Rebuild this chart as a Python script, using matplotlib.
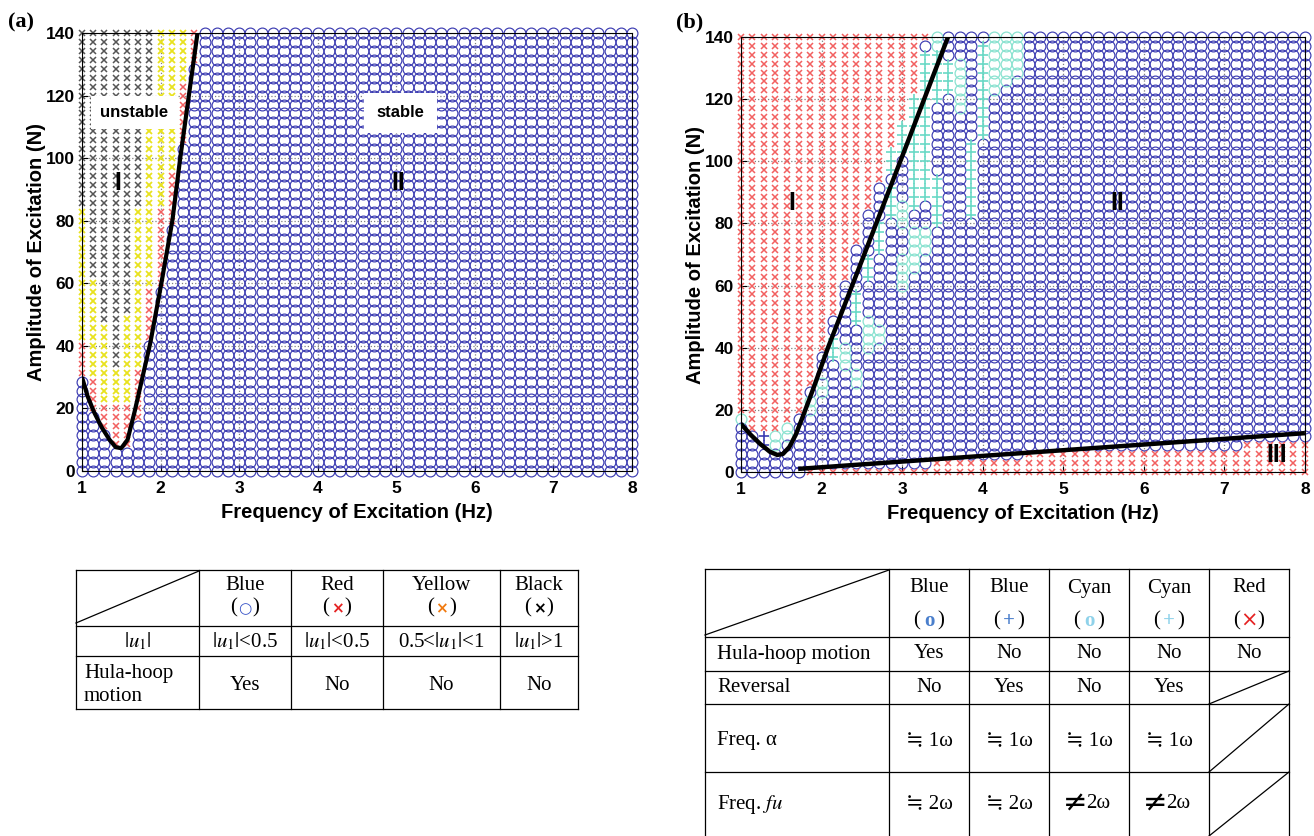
import numpy as np
import matplotlib.pyplot as plt

plt.rcParams['mathtext.fontset'] = 'stix'

# excitation grid used in both maps (50 x 50 runs)
freq = np.linspace(1, 8, 50)
amp = np.linspace(0, 140, 50)

# (a) per-column limits for the first columns (x = 1, 1.14, ...); above yellow_top -> black
a_blue_top = [30, 18, 12, 6, 8, 16, 40, 58, 78, 104, 130]
a_red_top = [40, 30, 20, 20, 20, 34, 58, 84, 96, 124, 140]
a_yellow_top = [84, 60, 46, 34, 50, 84, 118, 140, 140, 140, 140]

curve_a_x = [1.00, 1.07, 1.15, 1.25, 1.35, 1.43, 1.50, 1.58, 1.67, 1.77, 1.87, 2.01, 2.15, 2.25, 2.36, 2.47]
curve_a_y = [30, 24, 19, 14, 10, 7.6, 7.3, 10, 19, 30, 41, 60, 80, 100, 120, 140]

# (b) region I: red from this amplitude upward, per column
b_red_from = [18, 14, 12, 12, 16, 20, 26, 40, 50, 62, 72, 84, 92, 104, 112, 122, 138]
# region III: red up to b3_top from frequency b3_from
b3_from = [1.8, 3.4, 4.5, 6.3, 7.2]
b3_top = [1, 4, 6, 7, 9]
# scattered cyan / blue-plus points (column index, amp low, amp high, kind)
patch_col = [0, 2, 3, 4, 4, 6, 7, 8, 9, 10, 10, 11, 11, 12, 12, 13, 13, 14, 14, 14,
             15, 15, 16, 16, 17, 17, 17, 18, 19, 20, 21, 22, 23, 24]
patch_lo = [16, 10, 8, 12, 104, 20, 26, 38, 34, 28, 50, 40, 62, 44, 72, 82, 96, 60, 80, 104,
            66, 86, 72, 90, 80, 120, 138, 124, 116, 84, 108, 124, 126, 130]
patch_hi = [16, 10, 10, 14, 104, 22, 28, 42, 40, 32, 58, 48, 68, 46, 80, 92, 102, 68, 86, 110,
            78, 120, 78, 134, 94, 136, 140, 132, 130, 106, 138, 140, 140, 140]
patch_kind = ['co', 'b+', 'co', 'co', 'c+', 'co', 'co', 'c+', 'co', 'co', 'c+', 'co', 'c+', 'co',
              'c+', 'c+', 'c+', 'co', 'co', 'c+', 'co', 'c+', 'co', 'c+', 'c+', 'c+', 'co', 'c+',
              'co', 'c+', 'c+', 'co', 'co', 'co']

curve_b_x = [1.0, 1.12, 1.24, 1.36, 1.45, 1.52, 1.60, 1.68, 1.77, 1.90, 2.08, 2.5, 3.0, 3.57]
curve_b_y = [15.5, 12, 9, 6.5, 5.5, 5.8, 8, 12, 18, 27, 40, 68, 101.5, 140]
line3_x = [1.71, 8.0]
line3_y = [1.0, 12.5]

styles = {
    'bo': dict(marker='o', mfc='none', mec='#3c3cb2', ms=7.8, mew=0.85),
    'co': dict(marker='o', mfc='none', mec='#8ae2d0', ms=7.8, mew=0.9),
    'rx': dict(marker='x', color='#f26060', ms=4.4, mew=1.1),
    'yx': dict(marker='x', color='#e8e21e', ms=4.4, mew=1.3),
    'kx': dict(marker='x', color='#555555', ms=4.4, mew=1.1),
    'c+': dict(marker='+', color='#6ad9c6', ms=7.5, mew=1.2),
    'b+': dict(marker='+', color='#3c3cb2', ms=7.5, mew=1.2),
}

F, A = np.meshgrid(freq, amp, indexing='ij')

cls_a = np.full(F.shape, 'bo', dtype=object)
for k in range(len(a_blue_top)):
    cls_a[k, amp > a_blue_top[k]] = 'rx'
    cls_a[k, amp > a_red_top[k]] = 'yx'
    cls_a[k, amp > a_yellow_top[k]] = 'kx'

cls_b = np.full(F.shape, 'bo', dtype=object)
for c, lo, hi, kd in zip(patch_col, patch_lo, patch_hi, patch_kind):
    cls_b[c, (amp >= lo - 1.45) & (amp <= hi + 1.45)] = kd
for k, yr in enumerate(b_red_from):
    cls_b[k, amp >= yr] = 'rx'
for xf, yt in zip(b3_from, b3_top):
    cls_b[np.ix_(freq >= xf, amp <= yt)] = 'rx'

fig = plt.figure(figsize=(13.14, 8.36), dpi=100)
ax_a = fig.add_axes([0.0624, 0.4366, 0.4186, 0.5239])
ax_b = fig.add_axes([0.5639, 0.4354, 0.4292, 0.5203])

for ax, cls in [(ax_a, cls_a), (ax_b, cls_b)]:
    for key, st in styles.items():
        m = cls == key
        if m.any():
            ax.plot(F[m], A[m], ls='none', zorder=2, clip_on=False, **st)
    ax.set_xlim(1, 8)
    ax.set_ylim(0, 140)
    ax.set_xticks(range(1, 9))
    ax.set_yticks(range(0, 141, 20))
    ax.set_axisbelow(True)
    ax.grid(ls=':', color='#808080', lw=0.9)
    ax.tick_params(direction='in', length=4, labelsize=12.5)
    ax.tick_params(axis='x', pad=7)
    ax.tick_params(axis='y', pad=5)
    for lab in ax.get_xticklabels() + ax.get_yticklabels():
        lab.set_fontweight('bold')
        lab.set_family('Liberation Sans')
    ax.set_xlabel('Frequency of Excitation (Hz)', fontsize=14.5, fontweight='bold',
                  family='Liberation Sans', labelpad=5)
    ax.set_ylabel('Amplitude of Excitation (N)', fontsize=14.5, fontweight='bold',
                  family='Liberation Sans', labelpad=0)
    for sp in ax.spines.values():
        sp.set_linewidth(0.8)

ax_a.plot(curve_a_x, curve_a_y, color='k', lw=3, zorder=4, solid_capstyle='butt')
ax_b.plot(curve_b_x, curve_b_y, color='k', lw=3.2, zorder=4, solid_capstyle='butt')
ax_b.plot(line3_x, line3_y, color='k', lw=3.2, zorder=4, solid_capstyle='butt')

lab_kw = dict(fontweight='bold', family='Liberation Sans', zorder=5, ha='center', va='center')
ax_a.text(1.66, 114.5, 'unstable', fontsize=12,
          bbox=dict(facecolor='white', edgecolor='none', boxstyle='square,pad=0.55'), **lab_kw)
ax_a.text(5.05, 114.5, 'stable', fontsize=12,
          bbox=dict(facecolor='white', edgecolor='none', boxstyle='square,pad=0.75'), **lab_kw)
ax_a.text(1.45, 92, 'I', fontsize=18, **lab_kw)
ax_a.text(5.02, 92, 'II', fontsize=18, **lab_kw)
ax_b.text(1.63, 86.6, 'I', fontsize=18, **lab_kw)
ax_b.text(5.67, 86.6, 'II', fontsize=18, **lab_kw)
ax_b.text(7.65, 5.5, 'III', fontsize=18, **lab_kw)

fig.text(8 / 1314, 1 - 22 / 836, '(a)', fontsize=16, fontweight='bold', family='Liberation Serif', va='center')
fig.text(676 / 1314, 1 - 22 / 836, '(b)', fontsize=16, fontweight='bold', family='Liberation Serif', va='center')

# ---- tables (pixel coordinates overlay) ----
tab = fig.add_axes([0, 0, 1, 1])
tab.set_xlim(0, 1314)
tab.set_ylim(836, 0)
tab.axis('off')
tab.patch.set_alpha(0)

serif = ['Liberation Serif', 'DejaVu Serif', 'DejaVu Sans']
tk = dict(fontsize=15, family=serif, ha='center', va='center')

# table a
ta_x = [76, 199, 291, 383, 500, 578]
ta_y = [570, 626, 656, 709]
ta_names = ['Blue', 'Red', 'Yellow', 'Black']
ta_syms = ['\u25cb', '\u00d7', '\u00d7', '\u00d7']
ta_cols = ['#3a55c8', '#e52222', '#f07a10', '#000000']
ta_u1 = ['$|u_1|$<0.5', '$|u_1|$<0.5', '0.5<$|u_1|$<1', '$|u_1|$>1']
ta_hula = ['Yes', 'No', 'No', 'No']

for y in ta_y:
    tab.plot([ta_x[0], ta_x[-1]], [y, y], color='k', lw=0.9)
for x in ta_x:
    tab.plot([x, x], [ta_y[0], ta_y[-1]], color='k', lw=0.9)
tab.plot([ta_x[0], ta_x[1]], [ta_y[1] - 3, ta_y[0] + 1], color='k', lw=0.9)
for i in range(4):
    cx = (ta_x[i + 1] + ta_x[i + 2]) / 2
    tab.text(cx, 585, ta_names[i], **tk)
    tab.text(cx - 11, 608, '(', **tk)
    tab.text(cx + 11, 608, ')', **tk)
    tab.text(cx, 609, ta_syms[i], fontsize=11, color=ta_cols[i], ha='center', va='center',
             family='DejaVu Sans', fontweight='bold' if i else 'normal')
    tab.text(cx, 641, ta_u1[i], **tk)
    tab.text(cx, 685, ta_hula[i], **tk)
tab.text((ta_x[0] + ta_x[1]) / 2, 641, '$|u_1|$', **tk)
tab.text(84, 685, 'Hula-hoop\nmotion', fontsize=15, family=serif, ha='left', va='center', linespacing=1.25)

# table b
tb_x = [705, 889, 969, 1049, 1129, 1209, 1289]
tb_y = [569, 637, 671, 704, 772, 836]
tb_names = ['Blue', 'Blue', 'Cyan', 'Cyan', 'Red']
tb_syms = ['o', '+', 'o', '+', '\u00d7']
tb_cols = ['#4a7fcc', '#4a7fcc', '#8fd2ea', '#8fd2ea', '#e52222']
tb_rows = ['Hula-hoop motion', 'Reversal', 'Freq. \u03b1', 'Freq. $fu$']
tb_vals = [['Yes', 'No', 'No', 'No', 'No'],
           ['No', 'Yes', 'No', 'Yes', None],
           ['\u2252 1\u03c9', '\u2252 1\u03c9', '\u2252 1\u03c9', '\u2252 1\u03c9', None],
           ['\u2252 2\u03c9', '\u2252 2\u03c9', '\u2260', '\u2260', None]]
tb_row_y = [654, 688, 741, 804]

for y in tb_y[:-1]:
    tab.plot([tb_x[0], tb_x[-1]], [y, y], color='k', lw=0.9)
for x in tb_x:
    tab.plot([x, x], [tb_y[0], tb_y[-1]], color='k', lw=0.9)
tab.plot([tb_x[0], tb_x[1]], [tb_y[1] - 2, tb_y[0] + 1], color='k', lw=0.9)
for i in range(5):
    cx = (tb_x[i + 1] + tb_x[i + 2]) / 2
    tab.text(cx, 588, tb_names[i], **tk)
    tab.text(cx - 12, 621, '(', **tk)
    tab.text(cx + 12, 621, ')', **tk)
    tab.text(cx, 621, tb_syms[i], fontsize=15, color=tb_cols[i], ha='center', va='center',
             family=['DejaVu Sans'] if i == 4 else serif,
             fontweight='bold' if i < 4 else 'normal')
for r, (name, vals) in enumerate(zip(tb_rows, tb_vals)):
    tab.text(717, tb_row_y[r], name, fontsize=15, family=serif, ha='left', va='center')
    for i, v in enumerate(vals):
        cx = (tb_x[i + 1] + tb_x[i + 2]) / 2
        if v is None:
            tab.plot([tb_x[5], tb_x[6]], [tb_y[r + 2], tb_y[r + 1]], color='k', lw=0.9)
        elif v == '\u2260':
            tab.text(cx - 14, tb_row_y[r], v, fontsize=21, family=['DejaVu Sans'], ha='center', va='center')
            tab.text(cx + 9, tb_row_y[r], '2\u03c9', **tk)
        else:
            tab.text(cx, tb_row_y[r], v, **tk)

fig.savefig('out.png', dpi=100)
